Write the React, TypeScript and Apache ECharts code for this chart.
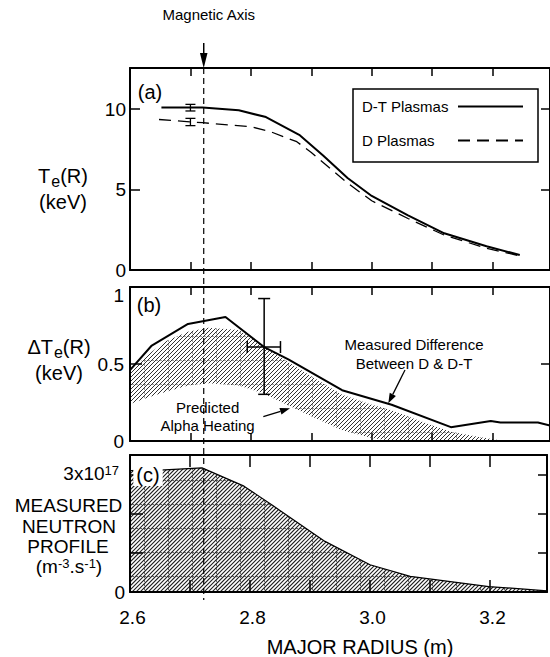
import React, { useEffect, useRef } from 'react';
import * as echarts from 'echarts';

const FONT = "'Liberation Sans', Arial, Helvetica, sans-serif";

// shared x range (major radius, m)
const X_MIN = 2.6;
const X_MAX = 3.295;
const X_INTERVAL = 0.1;
const MAG_AXIS_R = 2.722;

// panel (a) electron temperature (keV)
const R_DT = [2.652, 2.72, 2.78, 2.825, 2.88, 2.92, 2.96, 3.0, 3.06, 3.12, 3.19, 3.245];
const TE_DT = [10.1, 10.1, 9.92, 9.5, 8.4, 7.1, 5.72, 4.6, 3.4, 2.28, 1.48, 0.93];
const R_D = [2.648, 2.72, 2.8, 2.832, 2.876, 2.9, 2.96, 3.0, 3.06, 3.12, 3.19, 3.245];
const TE_D = [9.35, 9.15, 8.9, 8.6, 7.97, 7.3, 5.4, 4.3, 3.2, 2.17, 1.35, 0.88];
const EB_A_R = [2.7, 2.7];
const EB_A_LO = [9.88, 8.97];
const EB_A_HI = [10.29, 9.42];

// panel (b) temperature difference (keV)
const R_MEAS = [2.6, 2.636, 2.696, 2.758, 2.822, 2.862, 2.951, 3.033, 3.131, 3.197, 3.213, 3.275, 3.295];
const DTE_MEAS = [0.46, 0.62, 0.76, 0.805, 0.61, 0.53, 0.33, 0.235, 0.09, 0.13, 0.12, 0.12, 0.1];
const BAND_R = [2.6, 2.636, 2.66, 2.696, 2.73, 2.78, 2.82, 2.852, 2.9, 2.951, 3.0, 3.033, 3.08, 3.131, 3.18, 3.22];
const BAND_HI = [0.46, 0.58, 0.65, 0.71, 0.735, 0.72, 0.62, 0.535, 0.42, 0.3, 0.235, 0.2, 0.13, 0.06, 0.025, 0.0];
const BAND_LO = [0.24, 0.29, 0.32, 0.36, 0.375, 0.36, 0.31, 0.25, 0.16, 0.07, 0.02, 0.0, 0.0, 0.0, 0.0, 0.0];
// [R, value, R low, R high, value low, value high]
const ERR_B = [[2.822, 0.61, 2.794, 2.849, 0.303, 0.925]];

// panel (c) neutron profile (units of 1e17 m^-3 s^-1)
const R_NEU = [2.6, 2.65, 2.72, 2.79, 2.838, 2.925, 3.0, 3.067, 3.198, 3.295];
const NEU = [3.12, 3.13, 3.19, 2.72, 2.22, 1.3, 0.7, 0.4, 0.14, 0.03];

const zip = (a: number[], b: number[]) => a.map((v, i) => [v, b[i]]);

function hatchURL(stroke: string, sw: number, grid: string) {
  let s = "<svg xmlns='http://www.w3.org/2000/svg' width='24' height='24'>";
  s += "<rect width='24' height='24' fill='white'/>";
  for (let k = 0; k <= 48; k += 4) {
    s += `<line x1='${k}' y1='0' x2='0' y2='${k}' stroke='${stroke}' stroke-width='${sw}'/>`;
  }
  s += `<line x1='0' y1='0.5' x2='24' y2='0.5' stroke='${grid}' stroke-width='0.8' stroke-dasharray='2 2'/>`;
  s += `<line x1='0.5' y1='0' x2='0.5' y2='24' stroke='${grid}' stroke-width='0.8' stroke-dasharray='2 2'/>`;
  s += '</svg>';
  return 'data:image/svg+xml;charset=utf-8,' + encodeURIComponent(s);
}

const PAT_C: any = { image: hatchURL('#1a1a1a', 1.1, '#444'), repeat: 'repeat', imageWidth: 24, imageHeight: 24 };
const PAT_B: any = { image: hatchURL('#333', 1.0, '#888'), repeat: 'repeat', imageWidth: 24, imageHeight: 24 };

const xFmt = (v: number) => {
  const k = Math.round(v * 10);
  if (Math.abs(v * 10 - k) > 1e-6) return '';
  return k % 2 === 0 ? (k / 10).toFixed(1) : '';
};

function xAxes(gi: number, tickLen: number, showLabels: boolean) {
  const common = {
    gridIndex: gi,
    type: 'value',
    min: X_MIN,
    max: X_MAX,
    interval: X_INTERVAL,
    z: 5,
    splitLine: { show: false },
    axisLine: { show: true, onZero: false, lineStyle: { color: '#000', width: 2 } },
    axisTick: { show: true, inside: true, length: tickLen, lineStyle: { color: '#000', width: 1.5 } },
  };
  return [
    {
      ...common,
      position: 'bottom',
      axisLabel: {
        show: showLabels,
        fontSize: 19,
        fontFamily: FONT,
        color: '#000',
        margin: 16,
        padding: [0, 0, 0, 5],
        formatter: xFmt,
      },
    },
    { ...common, position: 'top', axisLabel: { show: false } },
  ];
}

function yAxes(gi: number, max: number, interval: number, tickLen: number, label: any) {
  const common = {
    gridIndex: gi,
    type: 'value',
    min: 0,
    max,
    interval,
    z: 5,
    splitLine: { show: false },
    axisLine: { show: true, onZero: false, lineStyle: { color: '#000', width: 2 } },
    axisTick: { show: true, inside: true, length: tickLen, lineStyle: { color: '#000', width: 1.5 } },
  };
  return [
    { ...common, position: 'left', axisLabel: { fontSize: 19, fontFamily: FONT, color: '#000', ...label } },
    { ...common, position: 'right', axisTick: { ...common.axisTick, length: 9 }, axisLabel: { show: false } },
  ];
}

const txt = (text: string, x: number, y: number, size: number, extra: any = {}) => ({
  type: 'text',
  z: 30,
  style: {
    text,
    x,
    y,
    fontSize: size,
    fontFamily: FONT,
    fill: '#000',
    align: 'center',
    verticalAlign: 'middle',
    ...extra,
  },
});

const seg = (x1: number, y1: number, x2: number, y2: number, w = 1.3, dash?: number[]) => ({
  type: 'line',
  z: 30,
  shape: { x1, y1, x2, y2 },
  style: { stroke: '#000', lineWidth: w, lineDash: dash },
});

const head = (pts: number[][]) => ({
  type: 'polygon',
  z: 30,
  shape: { points: pts },
  style: { fill: '#000', stroke: 'none' },
});

export default function App() {
  const ref = useRef<HTMLDivElement>(null);

  useEffect(() => {
    const el = ref.current;
    if (!el) return;
    const chart = echarts.init(el, null, { renderer: 'svg' });

    const errA = EB_A_R.map((r, i) => [r, EB_A_LO[i], EB_A_HI[i]]);
    const bandData = BAND_R.map((r, i) => [r, BAND_LO[i], BAND_HI[i]]);

    const option: any = {
      animation: false,
      backgroundColor: '#fff',
      grid: [
        { left: 130, top: 68, width: 424, height: 202 },
        { left: 130, top: 287, width: 424, height: 154 },
        { left: 130, top: 455, width: 424, height: 137 },
      ],
      xAxis: [...xAxes(0, 8, false), ...xAxes(1, 8, false), ...xAxes(2, 12, true)],
      yAxis: [
        ...yAxes(0, 12.55, 5, 10, {
          margin: 4,
          formatter: (v: number) => (Math.abs(v / 5 - Math.round(v / 5)) < 1e-6 ? String(Math.round(v)) : ''),
        }),
        ...yAxes(1, 1, 0.5, 12, {
          margin: 6,
          formatter: (v: number) =>
            Math.abs(v) < 1e-9 ? '0' : Math.abs(v - 0.5) < 1e-9 ? '0.5' : Math.abs(v - 1) < 1e-9 ? '{t|1}' : '',
          rich: { t: { fontSize: 19, fontFamily: FONT, color: '#000', lineHeight: 19, padding: [16, 0, 0, 0] } },
        }),
        ...yAxes(2, 3.52, 1, 13, {
          margin: 5,
          formatter: (v: number) => (Math.abs(v) < 1e-9 ? '0' : Math.abs(v - 3) < 1e-9 ? '{m|3x10}{s|17}' : ''),
          rich: {
            m: { fontSize: 19, fontFamily: FONT, color: '#000', lineHeight: 22, verticalAlign: 'top' },
            s: { fontSize: 13, fontFamily: FONT, color: '#000', lineHeight: 10, verticalAlign: 'top', padding: [0, 6, 0, 0] },
          },
        }),
      ],
      legend: {
        data: ['D-T Plasmas', 'D Plasmas'],
        orient: 'vertical',
        left: 353,
        top: 89,
        align: 'right',
        itemWidth: 65,
        itemHeight: 14,
        itemGap: 19,
        padding: [10, 14, 14, 9],
        borderColor: '#000',
        borderWidth: 1.5,
        selectedMode: false,
        itemStyle: { opacity: 0 },
        formatter: (name: string) => `{l|${name}}`,
        textStyle: {
          fontSize: 15,
          fontFamily: FONT,
          color: '#000',
          rich: { l: { width: 91, align: 'left', fontSize: 15, fontFamily: FONT, color: '#000' } },
        },
      },
      series: [
        {
          name: 'D-T Plasmas',
          type: 'line',
          xAxisIndex: 0,
          yAxisIndex: 0,
          data: zip(R_DT, TE_DT),
          symbol: 'none',
          lineStyle: { color: '#000', width: 2 },
          itemStyle: { color: '#000' },
          z: 3,
        },
        {
          name: 'D Plasmas',
          type: 'line',
          xAxisIndex: 0,
          yAxisIndex: 0,
          data: zip(R_D, TE_D),
          symbol: 'none',
          lineStyle: { color: '#000', width: 1.3, type: [12, 7] },
          itemStyle: { color: '#000' },
          z: 3,
        },
        {
          name: 'Te error',
          type: 'custom',
          xAxisIndex: 0,
          yAxisIndex: 0,
          data: errA,
          encode: { x: 0, y: [1, 2] },
          z: 4,
          renderItem: (params: any, api: any) => {
            const x = api.value(0);
            const lo = api.coord([x, api.value(1)]);
            const hi = api.coord([x, api.value(2)]);
            const c = 5;
            const st = { stroke: '#000', lineWidth: 1.3 };
            return {
              type: 'group',
              children: [
                { type: 'line', shape: { x1: lo[0], y1: lo[1], x2: hi[0], y2: hi[1] }, style: st },
                { type: 'line', shape: { x1: lo[0] - c, y1: lo[1], x2: lo[0] + c, y2: lo[1] }, style: st },
                { type: 'line', shape: { x1: hi[0] - c, y1: hi[1], x2: hi[0] + c, y2: hi[1] }, style: st },
              ],
            };
          },
        },
        {
          name: 'Predicted Alpha Heating',
          type: 'custom',
          xAxisIndex: 2,
          yAxisIndex: 2,
          data: bandData,
          encode: { x: 0, y: [1, 2] },
          z: 2,
          renderItem: (params: any, api: any) => {
            if (params.dataIndex !== 0) return null;
            const pts: number[][] = [];
            for (let i = 0; i < BAND_R.length; i++) pts.push(api.coord([BAND_R[i], BAND_HI[i]]));
            for (let i = BAND_R.length - 1; i >= 0; i--) pts.push(api.coord([BAND_R[i], BAND_LO[i]]));
            return { type: 'polygon', shape: { points: pts }, style: { fill: PAT_B, stroke: 'none' } };
          },
        },
        {
          name: 'Measured Difference',
          type: 'line',
          xAxisIndex: 2,
          yAxisIndex: 2,
          data: zip(R_MEAS, DTE_MEAS),
          symbol: 'none',
          lineStyle: { color: '#000', width: 2 },
          z: 3,
        },
        {
          name: 'Difference error',
          type: 'custom',
          xAxisIndex: 2,
          yAxisIndex: 2,
          data: ERR_B,
          encode: { x: [0, 2, 3], y: [1, 4, 5] },
          z: 4,
          renderItem: (params: any, api: any) => {
            const x = api.value(0);
            const y = api.value(1);
            const l = api.coord([api.value(2), y]);
            const r = api.coord([api.value(3), y]);
            const b = api.coord([x, api.value(4)]);
            const t = api.coord([x, api.value(5)]);
            const c = 6;
            const st = { stroke: '#000', lineWidth: 1.5 };
            return {
              type: 'group',
              children: [
                { type: 'line', shape: { x1: l[0], y1: l[1], x2: r[0], y2: r[1] }, style: st },
                { type: 'line', shape: { x1: b[0], y1: b[1], x2: t[0], y2: t[1] }, style: st },
                { type: 'line', shape: { x1: l[0], y1: l[1] - c, x2: l[0], y2: l[1] + c }, style: st },
                { type: 'line', shape: { x1: r[0], y1: r[1] - c, x2: r[0], y2: r[1] + c }, style: st },
                { type: 'line', shape: { x1: b[0] - c, y1: b[1], x2: b[0] + c, y2: b[1] }, style: st },
                { type: 'line', shape: { x1: t[0] - c, y1: t[1], x2: t[0] + c, y2: t[1] }, style: st },
              ],
            };
          },
        },
        {
          name: 'Neutron Profile',
          type: 'line',
          xAxisIndex: 4,
          yAxisIndex: 4,
          data: zip(R_NEU, NEU),
          symbol: 'none',
          lineStyle: { color: '#000', width: 1.2 },
          areaStyle: { color: PAT_C, opacity: 1 },
          z: 2,
        },
      ],
    };

    chart.setOption(option);

    const mx = chart.convertToPixel({ xAxisIndex: 0 } as any, MAG_AXIS_R) as unknown as number;

    // two-line axis title: first line with subscript "e", second line "(keV)"
    const yTitle = (main: string, x: number, top: number) => ({
      type: 'text',
      z: 30,
      style: {
        text: main + '\n{n|(keV)}',
        x,
        y: top,
        fill: '#000',
        align: 'center',
        verticalAlign: 'top',
        rich: {
          n: { fontSize: 20, fontFamily: FONT, fill: '#000', lineHeight: 26, verticalAlign: 'top' },
          s: { fontSize: 16, fontFamily: FONT, fill: '#000', lineHeight: 26, verticalAlign: 'top', padding: [7, 0, 0, 1] },
        },
      },
    });

    chart.setOption({
      graphic: [
        txt('Magnetic Axis', mx + 5, 14, 15),
        seg(mx, 43, mx, 58, 1.5),
        head([[mx - 3.8, 53], [mx + 3.8, 53], [mx, 68]]),
        { ...seg(mx, 68, mx, 600, 1.2, [6, 4]), z: 10 },
        txt('(a)', 150, 92, 20),
        txt('(b)', 149, 305, 20),
        txt('(c)', 148, 475, 20, { backgroundColor: '#fff', padding: [1, 3, 1, 3] }),
        yTitle('{n|T}{s|e}{n|(R)}', 63, 166),
        yTitle('{n|ΔT}{s|e}{n|(R)}', 59, 337),
        txt('MEASURED', 68.5, 505, 19, { lineHeight: 20 }),
        txt('NEUTRON', 69, 526, 19, { lineHeight: 20 }),
        txt('PROFILE', 68, 546.5, 19, { lineHeight: 20 }),
        {
          type: 'text',
          z: 30,
          style: {
            text: '{n|(m}{s|-3}{n|.s}{s|-1}{n|)}',
            x: 69,
            y: 557,
            fill: '#000',
            align: 'center',
            verticalAlign: 'top',
            rich: {
              n: { fontSize: 19, fontFamily: FONT, fill: '#000', lineHeight: 20, verticalAlign: 'top' },
              s: { fontSize: 13, fontFamily: FONT, fill: '#000', lineHeight: 11, verticalAlign: 'top' },
            },
          },
        },
        txt('MAJOR RADIUS (m)', 360, 647, 20),
        txt('Measured Difference\nBetween D & D-T', 414, 354, 15, { lineHeight: 18.3 }),
        seg(405, 370, 392.8, 394.4),
        head([[388.3, 403.3], [395.9, 396.0], [389.7, 392.8]]),
        txt('Predicted\nAlpha Heating', 207.6, 416.3, 15, { lineHeight: 17.5 }),
        seg(263.3, 416.7, 280.5, 411.3),
        head([[290, 408.3], [281.5, 414.6], [279.4, 408.0]]),
      ],
    });

    return () => {
      chart.dispose();
    };
  }, []);

  return (
    <div
      ref={ref}
      style={{ position: 'absolute', left: 0, top: 0, width: 550, height: 657, background: '#fff' }}
    />
  );
}
